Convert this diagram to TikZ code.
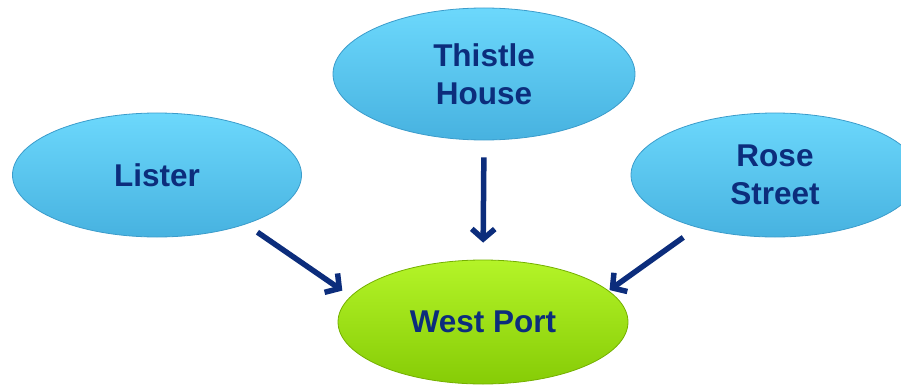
\documentclass[tikz,border=0pt]{standalone}
\usepackage{fontspec}
\setmainfont{Liberation Sans}
\usepackage{tikz}
\usetikzlibrary{shapes.geometric,arrows.meta}

\definecolor{skytop}{HTML}{6CD8FC}
\definecolor{skybot}{HTML}{47B2E0}
\definecolor{skyrim}{HTML}{3B9CCB}
\definecolor{limetop}{HTML}{B4F428}
\definecolor{limebot}{HTML}{86CC06}
\definecolor{limerim}{HTML}{74B000}
\definecolor{navy}{HTML}{0C2D7C}

\tikzset{
	site/.style={shape=ellipse,inner sep=0pt,draw=skyrim,line width=0.8pt,
		top color=skytop,bottom color=skybot,text=navy,align=center,
		font=\fontsize{31.5}{38}\selectfont\bfseries},
	hub/.style={site,draw=limerim,top color=limetop,bottom color=limebot},
	link/.style={draw=navy,line width=5.5pt,-{Straight Barb[length=10pt,width=23pt]}}
}

\begin{document}
\begin{tikzpicture}[x=1pt,y=-1pt]
		\useasboundingbox (0,0) rectangle (901,385);
		% the three sites around the top
		\node [site,minimum width=302pt,minimum height=132pt] (thistle) at (484,74) {Thistle\\House};
		\node [site,minimum width=289pt,minimum height=124pt] (lister) at (157,175) {Lister};
		\node [site,minimum width=288pt,minimum height=124pt] (rose) at (775,175) {Rose\\Street};
		% the one they all feed into
		\node [hub,minimum width=290pt,minimum height=124pt] (westport) at (483,322) {West Port};
		\draw [link,shorten <=14pt,shorten >=10pt] (lister.-29) -- (westport.169);
		\draw [link,shorten <=17pt,shorten >=17pt] (thistle.south) -- (westport.north);
		\draw [link,shorten <=17pt,shorten >=1pt] (rose.-146) -- (westport.14);
	\end{tikzpicture}
\end{document}
